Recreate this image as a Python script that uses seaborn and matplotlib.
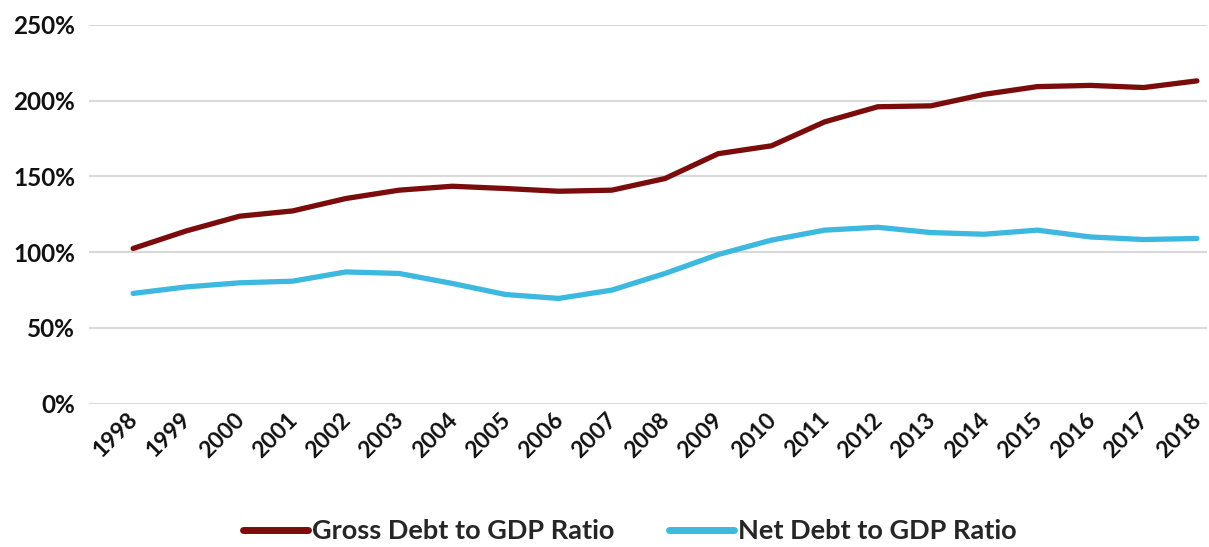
import matplotlib
matplotlib.use("Agg")
import matplotlib.pyplot as plt
import matplotlib.transforms as mtransforms
import seaborn as sns
import pandas as pd
from matplotlib.ticker import FuncFormatter
from matplotlib.lines import Line2D

years = [str(y) for y in range(1998, 2019)]
gross = [102.4, 114, 123.7, 127.2, 135.4, 140.9, 143.5, 142, 140.2, 140.9,
         148.6, 165, 170.2, 186, 196, 196.6, 204.2, 209.3, 210.1, 208.7, 213.1]
net = [72.7, 77, 79.7, 80.8, 86.9, 85.9, 79.3, 72, 69.4, 74.9,
       85.9, 98.4, 107.9, 114.5, 116.4, 112.9, 111.8, 114.5, 110, 108.3, 109]
series_names = ["Gross Debt to GDP Ratio", "Net Debt to GDP Ratio"]
colors = ["#7B0C0C", "#3DB9E0"]

df = pd.DataFrame({
    "year": years * 2,
    "x": list(range(len(years))) * 2,
    "value": gross + net,
    "series": [series_names[0]] * len(years) + [series_names[1]] * len(years),
})

sns.set_theme(style="white")
plt.rcParams["font.family"] = ["Lato", "DejaVu Sans"]

fig = plt.figure(figsize=(12.09, 5.47), dpi=100)
W, H = 1209, 547
ax = fig.add_axes([89 / W, 1 - 403.5 / H, (1207 - 89) / W, (403.5 - 25) / H])

sns.lineplot(data=df, x="x", y="value", hue="series", palette=colors,
             linewidth=3.8, ax=ax, legend=False, sort=False)

ax.set_ylim(0, 250)
ax.set_xlim(-0.83, 20.19)
ax.set_yticks(range(0, 251, 50))
ax.yaxis.set_major_formatter(FuncFormatter(lambda v, p: f"{int(v)}%"))
ax.set_xticks(range(len(years)))
ax.set_xticklabels(years, rotation=45, ha="right", rotation_mode="anchor")
ax.grid(axis="y", color="#D9D9D9", linewidth=1.5)
ax.set_axisbelow(True)
for s in ax.spines.values():
    s.set_visible(False)
ax.tick_params(axis="both", length=0)
ax.tick_params(axis="y", pad=10, labelsize=17.5)
ax.tick_params(axis="x", pad=4, labelsize=16.5)
offset = mtransforms.ScaledTranslation(-6 / 100, 0, fig.dpi_scale_trans)
for lab in ax.get_xticklabels():
    lab.set_transform(lab.get_transform() + offset)
for lab in ax.get_xticklabels() + ax.get_yticklabels():
    lab.set_fontweight("bold")
    lab.set_color("#111111")
ax.set_xlabel("")
ax.set_ylabel("")

handles = [Line2D([0], [0], color=c, linewidth=5) for c in colors]
fig.legend(handles, series_names, loc="center", bbox_to_anchor=(0.521, 1 - 531 / H),
           ncol=2, frameon=False, prop={"weight": "bold", "size": 19.5},
           handlelength=2.4, handletextpad=0.15, columnspacing=2.0)

fig.savefig("out.png", dpi=100)
